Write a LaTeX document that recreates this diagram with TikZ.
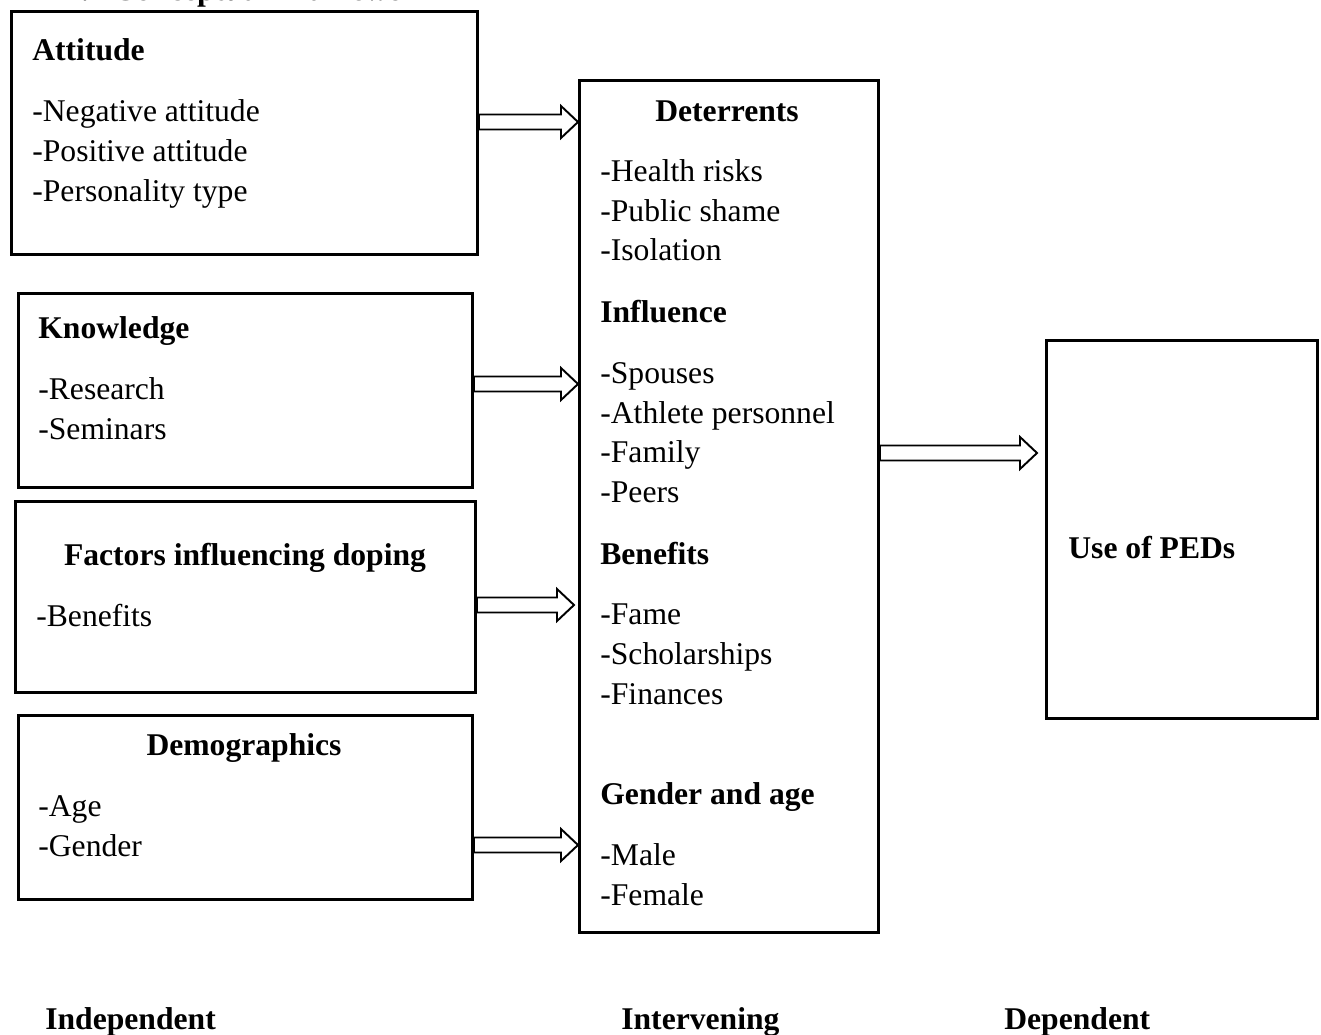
\documentclass[tikz,border=0pt]{standalone}
\usepackage{fontspec}
\setmainfont{Liberation Serif}
\usepackage{tikz}
\usetikzlibrary{calc}

\tikzset{
  box/.style={draw, line width=1.7pt, anchor=north west, inner sep=0pt},
  txt/.style={anchor=base west, inner sep=0pt, font=\fontsize{18pt}{22pt}\selectfont},
  head/.style={txt, font=\fontsize{18pt}{22pt}\selectfont\bfseries},
  fatarrow/.style={line width=1.1pt, line join=miter,
    to path={let \p1=(\tikztostart), \p2=(\tikztotarget) in
      (\x1,\y1+0.15cm) -- (\x2-0.34cm,\y1+0.15cm) -- (\x2-0.34cm,\y1+0.32cm)
      -- (\x2,\y1) -- (\x2-0.34cm,\y1-0.32cm) -- (\x2-0.34cm,\y1-0.15cm)
      -- (\x1,\y1-0.15cm) -- cycle}}
}

\begin{document}
\begin{tikzpicture}[x=0.02cm, y=-0.02cm]

\useasboundingbox (0,0) rectangle (1321,1034);

\node [head] (title) at (65,1) {2.4 Conceptual Framework};

% independent variables
\node [box, minimum width=9.32cm, minimum height=4.86cm] (att) at (10,10) {};
\node [head] (atth) at (32,61) {Attitude};
\node [txt] (att1) at (32,121) {-Negative attitude};
\node [txt] (att2) at (32,161) {-Positive attitude};
\node [txt] (att3) at (32,201) {-Personality type};

\node [box, minimum width=9.08cm, minimum height=3.88cm] (know) at (17,292) {};
\node [head] (knowh) at (38,338) {Knowledge};
\node [txt] (know1) at (38,399) {-Research};
\node [txt] (know2) at (38,439) {-Seminars};

\node [box, minimum width=9.2cm, minimum height=3.82cm] (fact) at (14,500) {};
\node [head, anchor=base] (facth) at (245,565) {Factors influencing doping};
\node [txt] (fact1) at (36,626) {-Benefits};

\node [box, minimum width=9.08cm, minimum height=3.68cm] (demo) at (17,714) {};
\node [head, anchor=base] (demoh) at (244,755) {Demographics};
\node [txt] (demo1) at (38,816) {-Age};
\node [txt] (demo2) at (38,856) {-Gender};

% intervening variables
\node [box, minimum width=5.98cm, minimum height=17.04cm] (int) at (578,79) {};
\node [head, anchor=base] (deth) at (727,121) {Deterrents};
\node [txt] (det1) at (600,181) {-Health risks};
\node [txt] (det2) at (600,221) {-Public shame};
\node [txt] (det3) at (600,260) {-Isolation};
\node [head] (infh) at (600,322) {Influence};
\node [txt] (inf1) at (600,383) {-Spouses};
\node [txt] (inf2) at (600,423) {-Athlete personnel};
\node [txt] (inf3) at (600,462) {-Family};
\node [txt] (inf4) at (600,502) {-Peers};
\node [head] (benh) at (600,564) {Benefits};
\node [txt] (ben1) at (600,624) {-Fame};
\node [txt] (ben2) at (600,664) {-Scholarships};
\node [txt] (ben3) at (600,704) {-Finances};
\node [head] (genh) at (600,804) {Gender and age};
\node [txt] (gen1) at (600,865) {-Male};
\node [txt] (gen2) at (600,905) {-Female};

% dependent variable
\node [box, minimum width=5.42cm, minimum height=7.56cm] (dep) at (1045,339) {};
\node [head] (deph) at (1068,558) {Use of PEDs};

% column labels
\node [head] (lind) at (45,1029) {Independent};
\node [head] (lint) at (621,1029) {Intervening};
\node [head] (ldep) at (1004,1029) {Dependent};

\draw [fatarrow] (att.east |- 0,122) to (int.west |- 0,122);
\draw [fatarrow] (know.east |- 0,384) to (int.west |- 0,384);
\draw [fatarrow] (fact.east |- 0,605) to ([xshift=-0.08cm]int.west |- 0,605);
\draw [fatarrow] (demo.east |- 0,845) to (int.west |- 0,845);
\draw [fatarrow] (int.east |- 0,453) to ([xshift=-0.16cm]dep.west |- 0,453);

\end{tikzpicture}
\end{document}
